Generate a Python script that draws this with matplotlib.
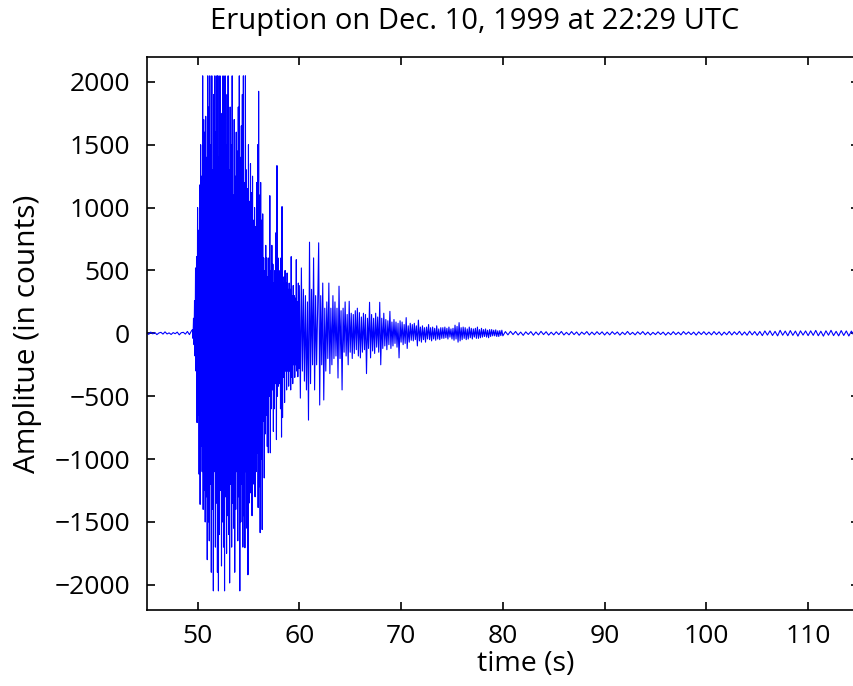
import numpy as np
import matplotlib
matplotlib.use("Agg")
import matplotlib.pyplot as plt

# ---- data (amplitude in counts) ----
# pre-event noise, 45.0 .. 49.4 s every 0.2 s
pre_start, pre_step = 45.0, 0.2
pre_vals = [5, -8, 10, -4, 7, -10, 3, 8, -6, 12, -5, 4, -9, 6, -3, 10, -12, 5, 8, -6, 15, -10, 20]

# main burst, 49.5 .. 60.0 s every 0.05 s
main_start, main_step = 49.5, 0.05
main_vals = (
    [30, -40, 120, -90, 260, -180, 520, -300, 610, -710]
    + [1000, -650, 820, -1120, 1180, -1360, 1500, -900, 1250, -1100, 2048, -1400, 1700, -1250, 1600, -1500, 1726, -1300, 1400, -1800]
    + [2048, -1500, 1800, -1650, 2048, -1200, 1500, -1900, 2048, -1400, 1300, -2048, 1900, -1100, 2048, -1700, 1600, -1350, 2048, -1900]
    + [2048, -2048, 1400, -1600, 2048, -1250, 1750, -1850, 1200, -1500, 2048, -1700, 1650, -2048, 2048, -1300, 1500, -1750, 1900, -1450]
    + [2048, -1600, 1300, -1985, 1800, -1200, 1500, -1700, 2048, -1350, 1100, -1550, 1700, -1900, 1250, -1400, 1600, -1100, 1450, -1650]
    + [1800, -1300, 2048, -2048, 1400, -1500, 1650, -1200, 1900, -1700, 2048, -1450, 1200, -1705, 2048, -1100, 1300, -1550, 1150, -1920]
    + [1500, -1350, 1050, -1270, 1350, -900, 1120, -1450, 1250, -1000, 900, -1200, 1000, -1300, 850, -1100, 1200, -950, 1500, -1385]
    + [1925, -1220, 1100, -1585, 1200, -1000, 900, -1560, 950, -700, 600, -1150, 500, -800, 700, -650, 600, -900, 450, -950]
    + [600, -500, 1095, -950, 500, -600, 700, -450, 550, -780, 400, -600, 500, -400, 800, -845, 1334, -500, 600, -420]
    + [500, -400, 450, -600, 600, -825, 1008, -670, 400, -350, 450, -550, 500, -300, 400, -450, 480, -300, 350, -420]
    + [400, -300, 350, -450, 610, -350, 300, -400, 380, -250, 300, -350, 280, -250, 586, -300, 250, -345, 400, -280]
    + [380]
)

# coda, 60.1 .. 80.0 s every 0.1 s
coda_start, coda_step = 60.1, 0.1
coda_vals = (
    [-515, 520, -300, 350, -380, 300, -450, 250, -690, 725]
    + [-400, 350, -250, 600, -450, 300, -250, 200, 720, -570]
    + [300, -250, 400, -530, 200, -300, 250, -200, 400, -320]
    + [200, -250, 300, -200, 250, -180, 200, -355, 375, -200]
    + [180, -450, 200, -150, 250, -180, 150, -250, 255, -150]
    + [160, -200, 150, -160, 180, -130, 200, -180, 165, -195]
    + [130, -150, 160, -130, 150, -320, 120, -120, 247, -195]
    + [150, -140, 120, -160, 160, -110, 130, -150, 247, -250]
    + [120, -120, 160, -100, 110, -130, 100, -90, 175, -120]
    + [90, -100, 110, -80, 90, -110, 80, -195, 100, -70]
    + [90, -90, 70, -80, 125, -120, 60, -70, 80, -55]
    + [70, -60, 80, -50, 60, -100, 105, -60, 50, -70]
    + [60, -50, 45, -70, 50, -45, 70, -50, 45, -60]
    + [50, -45, 40, -55, 60, -45, 35, -50, 45, -40]
    + [45, -40, 50, -35, 40, -45, 50, -30, 35, -45]
    + [40, -55, 65, -45, 55, -70, 85, -60, 45, -50]
    + [50, -40, 45, -50, 35, -45, 50, -35, 40, -45]
    + [35, -30, 40, -40, 50, -40, 30, -35, 40, -30]
    + [30, -25, 35, -30, 25, -35, 30, -25, 30, -20]
    + [25, -20, 28, -25, 20, -25, 22, -18, 25, -20]
)

# background noise, 80.25 .. 115.0 s every 0.25 s
tail_start, tail_step = 80.25, 0.25
tail_vals = (
    [14, -12, 16, -10, 15, -13, 10, -16, 12, -9, 14, -15, 11, -12, 16, -10, 13, -14, 9, -12]
    + [12, -10, 15, -13, 8, -12, 14, -10, 11, -15, 10, -8, 14, -13, 10, -11, 13, -9, 12, -13]
    + [10, -12, 13, -8, 11, -14, 9, -10, 15, -10, 8, -12, 12, -8, 14, -11, 10, -13, 8, -10]
    + [12, -9, 10, -14, 8, -11, 13, -10, 9, -12, 14, -8, 11, -10, 10, -14, 12, -9, 13, -11]
    + [10, -12, 14, -10, 12, -15, 10, -11, 15, -13, 12, -10, 16, -14, 11, -15, 17, -12, 14, -16]
    + [15, -18, 19, -14, 20, -17, 16, -20, 24, -15, 18, -19, 22, -16, 18, -22, 20, -14, 19, -18]
    + [20, -16, 23, -19, 17, -22, 20, -15, 24, -18, 16, -20, 22, -17, 19, -21, 18, -16, 20, -14]
)

x_ticks = [50, 60, 70, 80, 90, 100, 110]
y_ticks = [-2000, -1500, -1000, -500, 0, 500, 1000, 1500, 2000]
title = "Eruption on Dec. 10, 1999 at 22:29 UTC"
xlabel = "time (s)"
ylabel = "Amplitue (in counts)"


def seg_times(start, step, vals):
    return start + step * np.arange(len(vals))


t = np.concatenate([
    seg_times(pre_start, pre_step, pre_vals),
    seg_times(main_start, main_step, main_vals),
    seg_times(coda_start, coda_step, coda_vals),
    seg_times(tail_start, tail_step, tail_vals),
])
y = np.concatenate([pre_vals, main_vals, coda_vals, tail_vals]).astype(float)

plt.rcParams['font.family'] = ['Open Sans', 'DejaVu Sans']

W, H = 854, 686
fig = plt.figure(figsize=(W / 100, H / 100), dpi=100)
left, right, top, bottom = 146.7, 859.0, 56.7, 610.0
ax = fig.add_axes([left / W, 1 - bottom / H, (right - left) / W, (bottom - top) / H])

ax.plot(t, y, color=(0, 0, 1), lw=0.8)
ax.set_xlim(45, 115)
ax.set_ylim(-2200, 2200)
ax.set_xticks(x_ticks)
ax.set_yticks(y_ticks)
ax.set_yticklabels([f"{v}".replace("-", "\u2212") for v in y_ticks])
ax.tick_params(direction='in', length=6, width=1.2, top=True, right=True,
               labelsize=19, pad=10, colors='black')
ax.tick_params(axis='y', pad=12)
for s in ax.spines.values():
    s.set_linewidth(1.2)

fig.text(475 / W, 1 - 22 / H, title, ha='center', va='center', fontsize=21)
fig.text(526 / W, 1 - 664 / H, xlabel, ha='center', va='center', fontsize=20.5)
fig.text(28 / W, 1 - 334 / H, ylabel, ha='center', va='center', fontsize=21.5, rotation=90)

fig.savefig("out.png", dpi=100)
